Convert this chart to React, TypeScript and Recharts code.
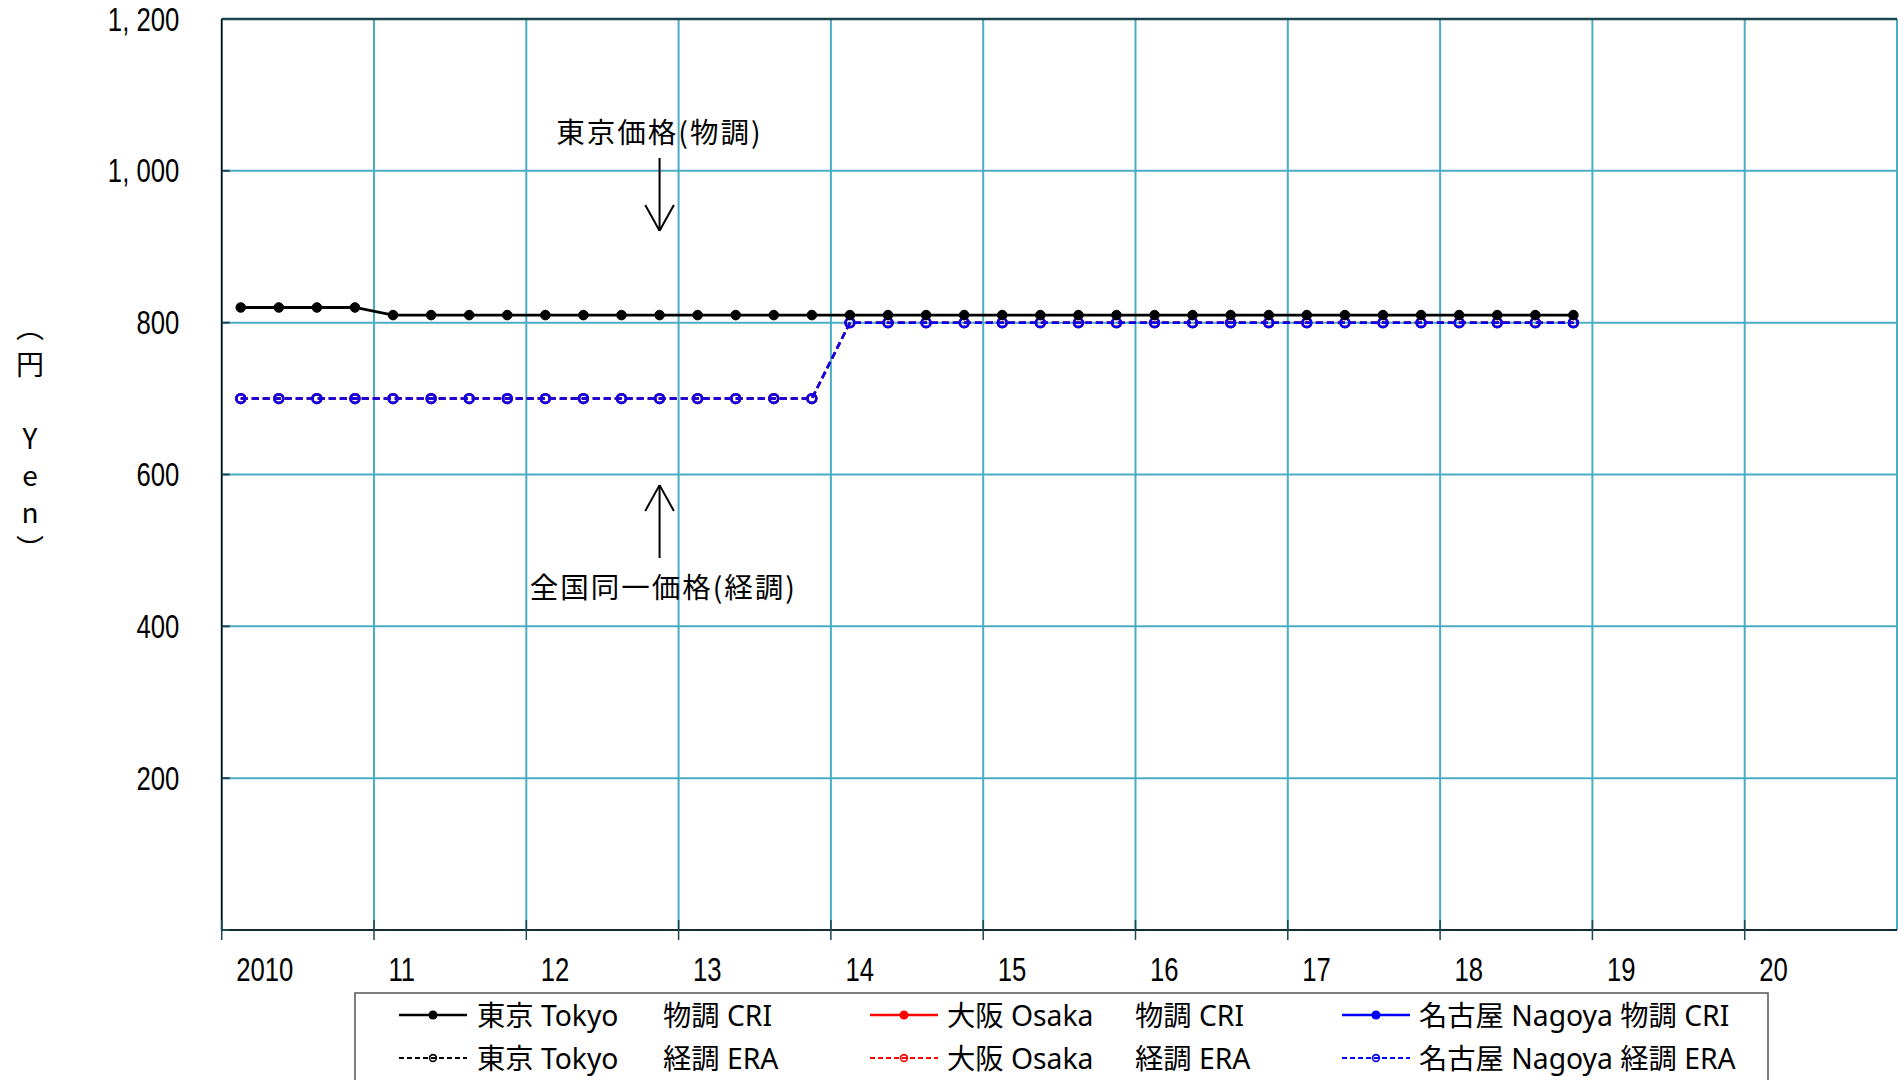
import React from "react";
import {
  LineChart,
  Line,
  XAxis,
  YAxis,
  CartesianGrid,
  ReferenceLine,
  ReferenceDot,
} from "recharts";

// ---------- data ----------
const quarters = [
  "2010Q1", "2010Q2", "2010Q3", "2010Q4",
  "2011Q1", "2011Q2", "2011Q3", "2011Q4",
  "2012Q1", "2012Q2", "2012Q3", "2012Q4",
  "2013Q1", "2013Q2", "2013Q3", "2013Q4",
  "2014Q1", "2014Q2", "2014Q3", "2014Q4",
  "2015Q1", "2015Q2", "2015Q3", "2015Q4",
  "2016Q1", "2016Q2", "2016Q3", "2016Q4",
  "2017Q1", "2017Q2", "2017Q3", "2017Q4",
  "2018Q1", "2018Q2", "2018Q3", "2018Q4",
];

const tokyoCri = [
  820, 820, 820, 820,
  810, 810, 810, 810,
  810, 810, 810, 810,
  810, 810, 810, 810,
  810, 810, 810, 810,
  810, 810, 810, 810,
  810, 810, 810, 810,
  810, 810, 810, 810,
  810, 810, 810, 810,
];

const tokyoEra = [
  700, 700, 700, 700,
  700, 700, 700, 700,
  700, 700, 700, 700,
  700, 700, 700, 700,
  800, 800, 800, 800,
  800, 800, 800, 800,
  800, 800, 800, 800,
  800, 800, 800, 800,
  800, 800, 800, 800,
];

const osakaEra = [
  700, 700, 700, 700,
  700, 700, 700, 700,
  700, 700, 700, 700,
  700, 700, 700, 700,
  800, 800, 800, 800,
  800, 800, 800, 800,
  800, 800, 800, 800,
  800, 800, 800, 800,
  800, 800, 800, 800,
];

const nagoyaEra = [
  700, 700, 700, 700,
  700, 700, 700, 700,
  700, 700, 700, 700,
  700, 700, 700, 700,
  800, 800, 800, 800,
  800, 800, 800, 800,
  800, 800, 800, 800,
  800, 800, 800, 800,
  800, 800, 800, 800,
];

const xTicks = [2010, 2011, 2012, 2013, 2014, 2015, 2016, 2017, 2018, 2019, 2020, 2021];
const xTickLabels = ["2010", "11", "12", "13", "14", "15", "16", "17", "18", "19", "20", ""];
const yTicks = [0, 200, 400, 600, 800, 1000, 1200];
const yTickLabels = ["", "200", "400", "600", "800", "1, 000", "1, 200"];

const annotationTop = "東京価格(物調)";
const annotationBottom = "全国同一価格(経調)";
const yTitle = "（円　Yen）";

const legendNames = ["東京 Tokyo", "大阪 Osaka", "名古屋 Nagoya"];
const legendKinds = ["物調 CRI", "経調 ERA"];
const seriesColors = ["#000000", "#FF0000", "#0000FF"];

// x position of a quarter = middle of the quarter
const quarterX = (q: string) => {
  const year = parseInt(q.slice(0, 4), 10);
  const qi = parseInt(q.slice(5), 10);
  return year + (qi - 0.5) / 4;
};

const data = quarters.map((q, i) => ({
  x: quarterX(q),
  tokyoCri: tokyoCri[i],
  tokyoEra: tokyoEra[i],
  osakaEra: osakaEra[i],
  nagoyaEra: nagoyaEra[i],
}));

// ---------- styles ----------
const SANS = "'Liberation Sans', Arial, sans-serif";
const JP = "'Noto Sans CJK JP', sans-serif";
const MIXED = "'Noto Sans', 'Noto Sans CJK JP', sans-serif";
const GRID = "#4BACC6";
const TICK_DARK = "#1d4650";
const NARROW_SCALE = 0.79;
const TICK_FONT = 32.5;

const W = 1898;
const H = 1080;

const XTick = (props: any) => {
  const { x, y, payload } = props;
  const label = xTickLabels[xTicks.indexOf(payload.value)] ?? "";
  if (payload.value >= 2021) return <g />;
  return (
    <g>
      <line x1={x} x2={x} y1={y - 10} y2={y + 10} stroke={TICK_DARK} strokeWidth={1.5} />
      <text
        transform={`translate(${x + 14.5},${y + 39}) scale(${NARROW_SCALE},1)`}
        x={0}
        y={0}
        textAnchor="start"
        dominantBaseline="central"
        fontFamily={SANS}
        fontSize={TICK_FONT}
        fill="#000"
      >
        {label}
      </text>
    </g>
  );
};

const YTick = (props: any) => {
  const { x, y, payload } = props;
  const label = yTickLabels[yTicks.indexOf(payload.value)] ?? "";
  return (
    <g>
      <line x1={x} x2={x + 8} y1={y} y2={y} stroke={TICK_DARK} strokeWidth={2} />
      {label !== "" && (
        <text
          transform={`translate(${x - 42.5},${y}) scale(${NARROW_SCALE},1)`}
          x={0}
          y={0}
          textAnchor="end"
          dominantBaseline="central"
          fontFamily={SANS}
          fontSize={TICK_FONT}
          fill="#000"
        >
          {label}
        </text>
      )}
    </g>
  );
};

const FilledDot = (color: string) => (p: any) =>
  p.cx == null || p.cy == null ? <g key={p.index} /> : (
    <circle key={p.index} cx={p.cx} cy={p.cy} r={4.8} fill={color} stroke={color} strokeWidth={1} />
  );

const OpenDot = (color: string) => (p: any) =>
  p.cx == null || p.cy == null ? <g key={p.index} /> : (
    <circle key={p.index} cx={p.cx} cy={p.cy} r={4.4} fill="none" stroke={color} strokeWidth={2.4} />
  );

const ARROW_X = 2012.875;

const Overlay = () => {
  const colX = [399, 870, 1342];
  const nameX = [477, 947, 1419];
  const kindX = [663, 1135];
  const rowY = [1015, 1058];
  return (
    <svg width={W} height={H} style={{ position: "absolute", left: 0, top: 0, pointerEvents: "none" }}>
      <rect x={355} y={993} width={1413} height={110} fill="#fff" stroke="#555" strokeWidth={1.5} />
      {rowY.map((ry, r) =>
        colX.map((cx, c) => {
          const color = seriesColors[c];
          const solid = r === 0;
          return (
            <g key={`${r}-${c}`}>
              <line
                x1={cx}
                x2={cx + 68}
                y1={ry}
                y2={ry}
                stroke={color}
                strokeWidth={solid ? 2.5 : 2}
                strokeDasharray={solid ? undefined : "5 3"}
              />
              {solid ? (
                <circle cx={cx + 34} cy={ry} r={4.5} fill={color} />
              ) : (
                <circle cx={cx + 34} cy={ry} r={3.4} fill="none" stroke={color} strokeWidth={1.6} />
              )}
              {c < 2 ? (
                <>
                  <text x={nameX[c]} y={ry} dominantBaseline="central" fontFamily={MIXED} fontSize={28.3} fill="#000">
                    {legendNames[c]}
                  </text>
                  <text x={kindX[c]} y={ry} dominantBaseline="central" fontFamily={MIXED} fontSize={28.3} fill="#000">
                    {legendKinds[r]}
                  </text>
                </>
              ) : (
                <text x={nameX[c]} y={ry} dominantBaseline="central" fontFamily={MIXED} fontSize={28.3} fill="#000">
                  {legendNames[c] + " " + legendKinds[r]}
                </text>
              )}
            </g>
          );
        })
      )}
      {/* Y axis title, vertical */}
      <text
        x={30}
        y={313}
        fontFamily={JP}
        fontSize={28}
        fill="#000"
        style={{ writingMode: "vertical-rl", textOrientation: "upright", letterSpacing: "9px" } as any}
      >
        {yTitle}
      </text>
    </svg>
  );
};

export default function App() {
  return (
    <div style={{ position: "absolute", left: 0, top: 0, width: W, height: H, background: "#fff", overflow: "hidden" }}>
      <LineChart width={W} height={H} data={data} margin={{ top: 19, right: 1, bottom: 0, left: 0 }}>
        <CartesianGrid stroke={GRID} strokeWidth={2} />
        <XAxis
          dataKey="x"
          type="number"
          domain={[2010, 2021]}
          ticks={xTicks}
          interval={0}
          height={150}
          tickSize={0}
          tickMargin={0}
          tickLine={false}
          tick={(p: any) => <XTick {...p} />}
          axisLine={{ stroke: "#000", strokeWidth: 1.5 }}
        />
        <YAxis
          type="number"
          domain={[0, 1200]}
          ticks={yTicks}
          interval={0}
          width={221.7}
          tickSize={0}
          tickMargin={0}
          tickLine={false}
          tick={(p: any) => <YTick {...p} />}
          axisLine={{ stroke: "#000", strokeWidth: 1.5 }}
        />
        <ReferenceLine y={1200} stroke={TICK_DARK} strokeWidth={2.5} />

        <Line
          dataKey="tokyoEra"
          stroke="#000000"
          strokeWidth={2.5}
          strokeDasharray="7 4"
          dot={OpenDot("#000000")}
          activeDot={false}
          isAnimationActive={false}
        />
        <Line
          dataKey="osakaEra"
          stroke="#FF0000"
          strokeWidth={2.5}
          strokeDasharray="7 4"
          dot={OpenDot("#FF0000")}
          activeDot={false}
          isAnimationActive={false}
        />
        <Line
          dataKey="nagoyaEra"
          stroke="#0000FF"
          strokeWidth={2.5}
          strokeDasharray="7 4"
          dot={OpenDot("#0000FF")}
          activeDot={false}
          isAnimationActive={false}
        />
        <Line
          dataKey="tokyoCri"
          stroke="#000000"
          strokeWidth={2.8}
          dot={FilledDot("#000000")}
          activeDot={false}
          isAnimationActive={false}
        />

        {/* annotations */}
        <ReferenceLine segment={[{ x: ARROW_X, y: 1017 }, { x: ARROW_X, y: 921 }]} stroke="#000" strokeWidth={2} />
        <ReferenceLine segment={[{ x: ARROW_X - 0.094, y: 955 }, { x: ARROW_X, y: 921 }]} stroke="#000" strokeWidth={2} />
        <ReferenceLine segment={[{ x: ARROW_X + 0.094, y: 955 }, { x: ARROW_X, y: 921 }]} stroke="#000" strokeWidth={2} />
        <ReferenceLine segment={[{ x: ARROW_X, y: 490 }, { x: ARROW_X, y: 586 }]} stroke="#000" strokeWidth={2} />
        <ReferenceLine segment={[{ x: ARROW_X - 0.094, y: 552 }, { x: ARROW_X, y: 586 }]} stroke="#000" strokeWidth={2} />
        <ReferenceLine segment={[{ x: ARROW_X + 0.094, y: 552 }, { x: ARROW_X, y: 586 }]} stroke="#000" strokeWidth={2} />
        <ReferenceDot
          x={2012.874}
          y={1050}
          r={1}
          fill="none"
          stroke="none"
          label={{ value: annotationTop, position: "center", fill: "#000", fontSize: 28.5, fontFamily: JP, letterSpacing: 2 }}
        />
        <ReferenceDot
          x={2012.9}
          y={450.5}
          r={1}
          fill="none"
          stroke="none"
          label={{ value: annotationBottom, position: "center", fill: "#000", fontSize: 28.5, fontFamily: JP, letterSpacing: 2 }}
        />
      </LineChart>
      <Overlay />
    </div>
  );
}
